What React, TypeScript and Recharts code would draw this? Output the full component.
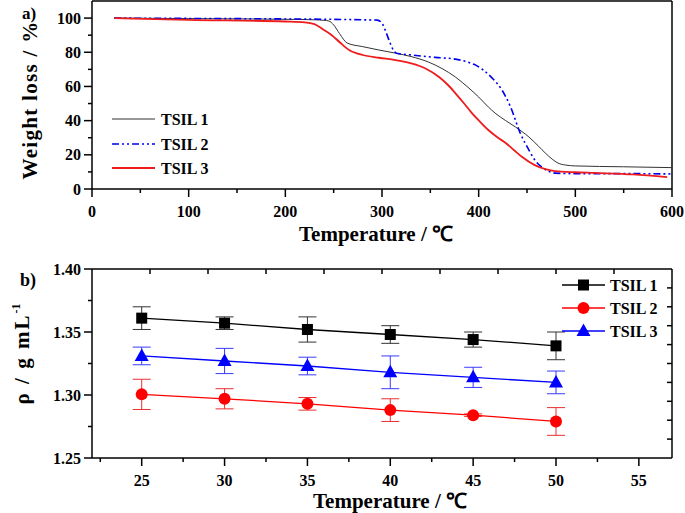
import React from "react";
import { LineChart, Line, XAxis, YAxis, ReferenceLine, ErrorBar } from "recharts";

// ---------- Panel a) TGA ----------
const tsil1T = [23, 100, 200, 230, 240, 245, 250, 256, 264, 280, 297, 314, 330, 348, 362, 376, 390, 400, 410, 417, 428, 438, 452, 462, 469, 476, 482, 490, 500, 550, 600];
const tsil1W = [100, 99.7, 99.3, 99, 98.7, 98.3, 96, 91, 85.4, 83.3, 81.3, 79.5, 77.5, 74.3, 70.5, 65.5, 59, 53.8, 48, 44.4, 40, 36.3, 30.4, 25, 21, 17.5, 15.2, 14, 13.5, 13, 12.5];
const tsil2T = [23, 100, 200, 280, 295, 300, 304, 308, 312, 316, 331, 355, 376, 390, 397, 405, 414, 424, 433, 443, 452, 458, 465, 472, 479, 500, 550, 600];
const tsil2W = [100, 99.8, 99.5, 99, 98.8, 97, 92, 86, 81, 79.3, 78.4, 77, 76, 74, 72.5, 69.5, 64.9, 58, 48, 32.7, 22.8, 17, 12.9, 10.5, 9.3, 9, 9, 8.8];
const tsil3T = [23, 100, 200, 220, 230, 240, 248, 256, 266, 280, 297, 314, 330, 345, 359, 368, 376, 385, 393, 402, 410, 420, 428, 437, 445, 458, 470, 479, 500, 520, 560, 595];
const tsil3W = [100, 99, 98, 97.5, 96.5, 93, 90, 86, 81.3, 78.4, 76.8, 75.4, 73.5, 70.5, 65.5, 61, 56, 50, 44.4, 39, 34.5, 30, 26.9, 22.5, 18.7, 14, 11.5, 10.5, 9.8, 9.4, 8.5, 7];

const tgaXMajor = [0, 100, 200, 300, 400, 500, 600];
const tgaXMinor = [50, 150, 250, 350, 450, 550];
const tgaYMajor = [0, 20, 40, 60, 80, 100];
const tgaYMinor = [10, 30, 50, 70, 90];

// ---------- Panel b) density ----------
const densT = [25, 30, 35, 40, 45, 50];
const dens1 = [1.361, 1.357, 1.352, 1.348, 1.344, 1.339];
const err1 = [0.009, 0.005, 0.010, 0.007, 0.006, 0.011];
const dens2 = [1.3005, 1.297, 1.293, 1.288, 1.284, 1.279];
const err2 = [0.012, 0.008, 0.005, 0.009, 0.001, 0.011];
const dens3 = [1.331, 1.327, 1.323, 1.318, 1.314, 1.310];
const err3 = [0.007, 0.010, 0.007, 0.013, 0.008, 0.009];

const densXMajor = [25, 30, 35, 40, 45, 50, 55];
const densXMinor = [22.5, 27.5, 32.5, 37.5, 42.5, 47.5, 52.5];
const densYMajor = [1.25, 1.3, 1.35, 1.4];
const densYMinor = [1.275, 1.325, 1.375];
const densTopTicks = [25.5, 29, 32.5, 36, 39.5, 43, 46.5, 50, 53.5];
const densRightTicks = [1.265, 1.28, 1.295, 1.31, 1.325, 1.34, 1.355, 1.37, 1.385];

const seriesNames = ["TSIL 1", "TSIL 2", "TSIL 3"];

const FONT = "'Liberation Serif', 'Times New Roman', serif";
const labelStyle: React.CSSProperties = { fontFamily: FONT, fontWeight: 700, fontSize: 16, fill: "#000" };
const axisLineStyle = { stroke: "#000", strokeWidth: 1.5 };
const TICK = 8;
const MINOR = 4;

const mk = (xs: number[], ys: number[]) => xs.map((x, i) => ({ x, y: ys[i] }));
const tga1 = mk(tsil1T, tsil1W);
const tga2 = mk(tsil2T, tsil2W);
const tga3 = mk(tsil3T, tsil3W);

const densData = densT.map((t, i) => ({
  t,
  d1: dens1[i], e1: err1[i],
  d2: dens2[i], e2: err2[i],
  d3: dens3[i], e3: err3[i],
}));

const merge = (a: number[], b: number[]) => [...a, ...b].sort((p, q) => p - q);
const isIn = (arr: number[], v: number) => arr.some((m) => Math.abs(m - v) < 1e-6);

const makeXTick = (majors: number[], margin: number, fmt: (v: number) => string) => (p: any) => {
  const v = p.payload.value;
  const major = isIn(majors, v);
  const ay = p.y - TICK - margin;
  return (
    <g key={p.index}>
      <line x1={p.x} x2={p.x} y1={ay} y2={ay + (major ? TICK : MINOR)} stroke="#000" strokeWidth={1.5} />
      {major && (
        <text x={p.x} y={p.y} dy="0.71em" textAnchor="middle" style={labelStyle}>{fmt(v)}</text>
      )}
    </g>
  );
};

const makeYTick = (majors: number[], margin: number, fmt: (v: number) => string) => (p: any) => {
  const v = p.payload.value;
  const major = isIn(majors, v);
  const ax = p.x + TICK + margin;
  return (
    <g key={p.index}>
      <line x1={ax} x2={ax - (major ? TICK : MINOR)} y1={p.y} y2={p.y} stroke="#000" strokeWidth={1.5} />
      {major && (
        <text x={p.x} y={p.y} dy="0.35em" textAnchor="end" style={labelStyle}>{fmt(v)}</text>
      )}
    </g>
  );
};

const Empty = () => <g />;

const Square = (p: any) => (
  <rect key={p.key} x={p.cx - 5.5} y={p.cy - 5.5} width={11} height={11} fill="#000" />
);
const Circle = (p: any) => <circle key={p.key} cx={p.cx} cy={p.cy} r={6} fill="#ff0000" />;
const Tri = (p: any) => (
  <polygon key={p.key} points={`${p.cx},${p.cy - 7.5} ${p.cx - 7},${p.cy + 5} ${p.cx + 7},${p.cy + 5}`} fill="#0000ff" />
);

const textBase: React.CSSProperties = {
  position: "absolute",
  fontFamily: FONT,
  fontWeight: 700,
  color: "#000",
  whiteSpace: "nowrap",
  lineHeight: 1,
};

export default function App() {
  return (
    <div style={{ position: "absolute", left: 0, top: 0, width: 685, height: 513, background: "#fff", overflow: "hidden" }}>
      {/* Panel a */}
      <div style={{ position: "absolute", left: 0, top: 0 }}>
        <LineChart width={685} height={250} margin={{ top: 1, right: 13, left: 0, bottom: 0 }}>
          <XAxis xAxisId={0} type="number" dataKey="x" domain={[0, 600]} ticks={merge(tgaXMajor, tgaXMinor)} height={61}
            axisLine={axisLineStyle} tickLine={false} tickSize={TICK} tickMargin={9}
            tick={makeXTick(tgaXMajor, 9, (v) => String(v))} interval={0} allowDataOverflow />
          <YAxis yAxisId={0} type="number" domain={[0, 110]} ticks={merge(tgaYMajor, tgaYMinor)} width={92}
            axisLine={axisLineStyle} tickLine={false} tickSize={TICK} tickMargin={3}
            tick={makeYTick(tgaYMajor, 3, (v) => String(v))} interval={0} allowDataOverflow />
          <ReferenceLine y={110} stroke="#000" strokeWidth={1.5} />
          <ReferenceLine x={600} stroke="#000" strokeWidth={1.5} />
          <Line data={tga1} dataKey="y" name={seriesNames[0]} stroke="#333" strokeWidth={1} dot={false} isAnimationActive={false} type="monotone" />
          <Line data={tga2} dataKey="y" name={seriesNames[1]} stroke="#0000ee" strokeWidth={1.6} strokeDasharray="7 3 2 3 2 3" dot={false} isAnimationActive={false} type="monotone" />
          <Line data={tga3} dataKey="y" name={seriesNames[2]} stroke="#ee1c1c" strokeWidth={1.8} dot={false} isAnimationActive={false} type="monotone" />
        </LineChart>
      </div>

      {/* Panel a legend */}
      <svg style={{ position: "absolute", left: 0, top: 0 }} width={685} height={250} pointerEvents="none">
        {[
          { y: 119, stroke: "#333", w: 1, dash: undefined },
          { y: 144, stroke: "#0000ee", w: 1.6, dash: "7 3 2 3 2 3" },
          { y: 168, stroke: "#ee1c1c", w: 1.8, dash: undefined },
        ].map((r, i) => (
          <g key={i}>
            <line x1={112} x2={155} y1={r.y} y2={r.y} stroke={r.stroke} strokeWidth={r.w} strokeDasharray={r.dash} />
            <text x={161} y={r.y + 6} style={{ fontFamily: FONT, fontWeight: 700, fontSize: 16 }}>{seriesNames[i]}</text>
          </g>
        ))}
      </svg>

      <div style={{ ...textBase, left: 22, top: 5, fontSize: 17 }}>a)</div>
      <div style={{ ...textBase, left: 30, top: 100, fontSize: 21, letterSpacing: 1.3, transform: "translate(-50%, -50%) rotate(-90deg)" }}>Weight loss / %</div>
      <div style={{ ...textBase, left: 299, top: 224, fontSize: 21 }}>Temperature / ℃</div>

      {/* Panel b */}
      <div style={{ position: "absolute", left: 0, top: 250 }}>
        <LineChart width={685} height={263} data={densData} margin={{ top: 19, right: 13, left: 0, bottom: 0 }}>
          <XAxis xAxisId={0} type="number" dataKey="t" domain={[22, 57]} ticks={merge(densXMajor, densXMinor)} height={55}
            axisLine={axisLineStyle} tickLine={false} tickSize={TICK} tickMargin={9}
            tick={makeXTick(densXMajor, 9, (v) => String(v))} interval={0} allowDataOverflow />
          <XAxis xAxisId="top" orientation="top" mirror type="number" dataKey="t" domain={[22, 57]} ticks={densTopTicks} height={30}
            axisLine={axisLineStyle} tickLine={{ stroke: "#000", strokeWidth: 1.5 }} tickSize={5} tick={<Empty />} interval={0} allowDataOverflow />
          <YAxis yAxisId={0} type="number" domain={[1.25, 1.4]} ticks={merge(densYMajor, densYMinor)} width={92}
            axisLine={axisLineStyle} tickLine={false} tickSize={TICK} tickMargin={3}
            tick={makeYTick(densYMajor, 3, (v) => v.toFixed(2))} interval={0} allowDataOverflow />
          <YAxis yAxisId="right" orientation="right" mirror type="number" domain={[1.25, 1.4]} ticks={densRightTicks} width={30}
            axisLine={axisLineStyle} tickLine={{ stroke: "#000", strokeWidth: 1.5 }} tickSize={5} tick={<Empty />} interval={0} allowDataOverflow />
          <Line dataKey="d1" name={seriesNames[0]} stroke="#000" strokeWidth={1.3} dot={<Square />} isAnimationActive={false}>
            <ErrorBar dataKey="e1" width={9} stroke="#333" strokeWidth={1} direction="y" />
          </Line>
          <Line dataKey="d2" name={seriesNames[1]} stroke="#ff0000" strokeWidth={1.3} dot={<Circle />} isAnimationActive={false}>
            <ErrorBar dataKey="e2" width={9} stroke="#e83030" strokeWidth={1} direction="y" />
          </Line>
          <Line dataKey="d3" name={seriesNames[2]} stroke="#0000ff" strokeWidth={1.3} dot={<Tri />} isAnimationActive={false}>
            <ErrorBar dataKey="e3" width={9} stroke="#3a3aff" strokeWidth={1} direction="y" />
          </Line>
        </LineChart>
      </div>

      {/* Panel b legend */}
      <svg style={{ position: "absolute", left: 0, top: 0 }} width={685} height={513} pointerEvents="none">
        {[
          { y: 285, stroke: "#000", Dot: Square },
          { y: 308, stroke: "#ff0000", Dot: Circle },
          { y: 331, stroke: "#0000ff", Dot: Tri },
        ].map((r, i) => (
          <g key={i}>
            <line x1={562} x2={605} y1={r.y} y2={r.y} stroke={r.stroke} strokeWidth={1.3} />
            {r.Dot({ cx: 583.5, cy: r.y, key: "d" + i })}
            <text x={610} y={r.y + 6} style={{ fontFamily: FONT, fontWeight: 700, fontSize: 16 }}>{seriesNames[i]}</text>
          </g>
        ))}
      </svg>

      <div style={{ ...textBase, left: 20, top: 271, fontSize: 18 }}>b)</div>
      <div style={{ ...textBase, left: 313, top: 491, fontSize: 21 }}>Temperature / ℃</div>
      <div style={{ ...textBase, left: 22, top: 354, fontSize: 21, letterSpacing: 2, transform: "translate(-50%, -50%) rotate(-90deg)" }}>
        ρ / g mL<sup style={{ fontSize: 12, verticalAlign: "0.7em", lineHeight: 0, letterSpacing: 0 }}>-1</sup>
      </div>
    </div>
  );
}
